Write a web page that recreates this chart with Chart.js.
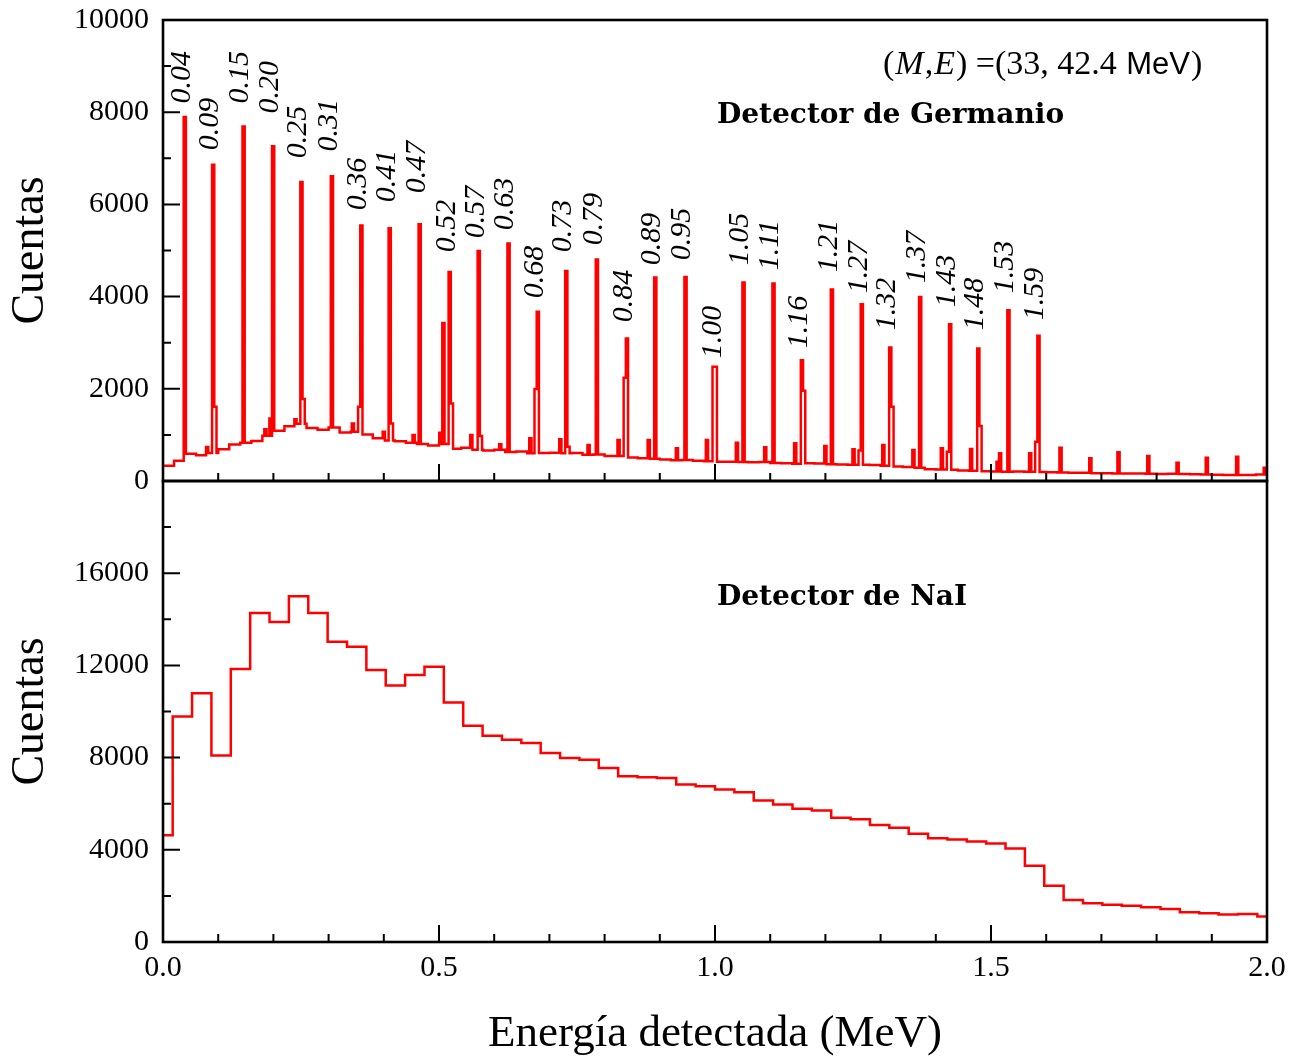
<!DOCTYPE html>
<html>
<head>
<meta charset="utf-8">
<title>Espectros Germanio / NaI</title>
<script src="https://cdn.jsdelivr.net/npm/chart.js@4.4.1/dist/chart.umd.min.js"></script>
<style>
    html, body { margin: 0; padding: 0; background: #fff; }
    #wrap { position: relative; width: 1303px; height: 1058px; }
    #geBox { position: absolute; left: 0; top: 0; width: 1303px; height: 500px; }
    #naiBox { position: absolute; left: 0; top: 470px; width: 1303px; height: 588px; }
</style>
</head>
<body>
<div id="wrap">
    <div id="naiBox"><canvas id="naiChart"></canvas></div>
    <div id="geBox"><canvas id="geChart"></canvas></div>
</div>
<script>
// ---- Germanium spectrum ----
// continuum, one value per 0.02 MeV bin starting at 0
const geBgStep = 0.02;
const geBackground = [
    330, 440, 590, 560, 610, 690, 790, 830, 870, 980,
    1090, 1190, 1240, 1150, 1110, 1160, 1050, 1070, 1010, 930,
    880, 860, 830, 800, 770, 800, 700, 720, 680, 660,
    680, 630, 640, 600, 610, 615, 600, 605, 570, 575,
    540, 545, 510, 495, 480, 465, 450, 455, 440, 430,
    420, 420, 410, 405, 410, 390, 385, 375, 385, 380,
    365, 360, 350, 355, 345, 330, 315, 305, 285, 255,
    250, 245, 230, 225, 210, 205, 200, 205, 200, 195,
    190, 185, 180, 178, 170, 168, 165, 162, 165, 158,
    152, 155, 150, 148, 142, 135, 130, 132, 128, 140
];
const geSpikeWidth = 0.004;

// labelled lines
const geLineEnergy = [
    0.0395, 0.0909, 0.1460, 0.1995, 0.2508, 0.3060, 0.3594, 0.4107, 0.4650, 0.5194,
    0.5720, 0.6260, 0.6790, 0.7306, 0.7860, 0.8405, 0.8918, 0.9466, 1.0015, 1.0517,
    1.1060, 1.1575, 1.2118, 1.2660, 1.3175, 1.3717, 1.4260, 1.4770, 1.5316, 1.5860
];
const geLineCounts = [
    7894, 6862, 7692, 7259, 6486, 6609, 5540, 5482, 5569, 4536,
    4990, 5150, 3669, 4557, 4803, 3092, 4414, 4427, 2477, 4305,
    4283, 2622, 4154, 3835, 2897, 3993, 3402, 2875, 3705, 3149
];
const geLabels = [
    '0.04', '0.09', '0.15', '0.20', '0.25', '0.31', '0.36', '0.41', '0.47', '0.52',
    '0.57', '0.63', '0.68', '0.73', '0.79', '0.84', '0.89', '0.95', '1.00', '1.05',
    '1.11', '1.16', '1.21', '1.27', '1.32', '1.37', '1.43', '1.48', '1.53', '1.59'
];
// count level where each rotated label starts
const geLabelBase = [
    8191, 7172, 8191, 7974, 6999, 7150, 5872, 6045, 6240, 4962,
    5265, 5439, 3965, 4962, 5114, 3445, 4680, 4789, 2665, 4680,
    4572, 2882, 4529, 4074, 3272, 4290, 3770, 3272, 4074, 3489
];

// shoulders, escape peaks and small lines
const geExtraEnergy = [
    0.0800, 0.0949, 0.1856, 0.1947, 0.2400, 0.2548, 0.3440, 0.3554, 0.4000, 0.4147,
    0.4540, 0.5025, 0.5080, 0.5234, 0.5586, 0.5760, 0.6110, 0.6655, 0.6750, 0.7198,
    0.7346, 0.7710, 0.8253, 0.8365, 0.8800, 0.9310, 0.9854, 0.9975, 1.0397, 1.0910,
    1.1453, 1.1615, 1.2000, 1.2510, 1.2620, 1.3050, 1.3215, 1.3595, 1.4110, 1.4220,
    1.4640, 1.4810, 1.5120, 1.5165, 1.5710, 1.5820, 1.6260, 1.6800, 1.7310, 1.7850,
    1.8380, 1.8910, 1.9460, 1.9960
];
const geExtraCounts = [
    736, 1610, 1120, 1358, 1340, 1777, 1250, 1610, 1068, 1250,
    997, 1047, 3430, 1683, 997, 975, 795, 925, 1993, 903,
    743, 780, 888, 2238, 888, 708, 888, 2477, 830, 730,
    817, 1957, 758, 687, 661, 780, 1610, 672, 708, 635,
    693, 1192, 418, 600, 600, 852, 722, 492, 622, 542,
    397, 505, 527, 290
];

// ---- NaI spectrum ----
const naiBinWidth = 2 / 57;
const naiCounts = [
    4631, 9784, 10790, 8086, 11844, 14276, 13888, 14998, 14276, 13024,
    12808, 11801, 11123, 11585, 11944, 10389, 9382, 8950, 8777, 8631,
    8199, 7983, 7912, 7552, 7192, 7149, 7120, 6832, 6760, 6616,
    6501, 6141, 5970, 5781, 5709, 5391, 5320, 5076, 4960, 4701,
    4500, 4442, 4355, 4269, 4053, 3305, 2441, 1822, 1678, 1620,
    1577, 1505, 1433, 1289, 1246, 1188, 1217, 1102
];

const xTickValues = [0, 0.5, 1.0, 1.5, 2.0];

const SERIF = "'Liberation Serif', 'Times New Roman', serif";
const SANS = "'Liberation Sans', Arial, sans-serif";
const WIDE_SERIF = "'DejaVu Serif', serif";
const RED = '#ff0000';

// step points (left edge + value) for the germanium histogram
function buildGeSpectrum() {
    const spikes = [];
    geLineEnergy.forEach((e, i) => spikes.push({ lo: e - geSpikeWidth / 2, hi: e + geSpikeWidth / 2, v: geLineCounts[i] }));
    geExtraEnergy.forEach((e, i) => spikes.push({ lo: e - geSpikeWidth / 2, hi: e + geSpikeWidth / 2, v: geExtraCounts[i] }));

    const cuts = [];
    for (let i = 0; i <= geBackground.length; i++) cuts.push(+(i * geBgStep).toFixed(4));
    spikes.forEach(s => { cuts.push(+s.lo.toFixed(4)); cuts.push(+s.hi.toFixed(4)); });
    const edges = [...new Set(cuts)].filter(c => c >= 0 && c <= 2).sort((a, b) => a - b);

    const points = [];
    for (let i = 0; i < edges.length - 1; i++) {
        const mid = (edges[i] + edges[i + 1]) / 2;
        let v = geBackground[Math.min(geBackground.length - 1, Math.floor(mid / geBgStep))];
        spikes.forEach(s => { if (mid > s.lo && mid < s.hi && s.v > v) v = s.v; });
        if (points.length && points[points.length - 1].y === v) continue;
        points.push({ x: edges[i], y: v });
    }
    points.push({ x: 2, y: points[points.length - 1].y });
    return points;
}

function buildNaiSpectrum() {
    return naiCounts.map((v, k) => ({ x: Math.min(2, k * naiBinWidth), y: v }));
}

// keep the plot box where the layout padding puts it
function noOverflow(s) {
    s.paddingTop = 0;
    s.paddingBottom = 0;
    s.paddingLeft = 0;
    s.paddingRight = 0;
}

// box around the plot area with inward ticks
const framePlugin = {
    id: 'frame',
    afterDatasetsDraw(chart, args, opts) {
        const { ctx, chartArea: a } = chart;
        const xs = chart.scales.x;
        const ys = chart.scales.y;
        ctx.save();
        ctx.strokeStyle = '#000';
        ctx.lineWidth = 2;
        ctx.beginPath();
        for (let i = 0; i <= 20; i++) {
            const px = xs.getPixelForValue(i / 10);
            const len = i % 5 === 0 ? 17 : 8;
            ctx.moveTo(px, a.bottom);
            ctx.lineTo(px, a.bottom - len);
        }
        const n = Math.round(ys.max / opts.yMinor);
        for (let i = 0; i <= n; i++) {
            const v = i * opts.yMinor;
            const py = ys.getPixelForValue(v);
            const len = v % opts.yMajor === 0 ? 17 : 8;
            ctx.moveTo(a.left, py);
            ctx.lineTo(a.left + len, py);
        }
        ctx.stroke();
        ctx.lineWidth = 2.6;
        ctx.strokeRect(a.left, a.top, a.right - a.left, a.bottom - a.top);
        ctx.restore();
    }
};

function drawYTitle(ctx, a) {
    ctx.save();
    ctx.translate(43, (a.top + a.bottom) / 2);
    ctx.rotate(-Math.PI / 2);
    ctx.font = `46px ${SERIF}`;
    ctx.fillStyle = '#000';
    ctx.textAlign = 'center';
    ctx.textBaseline = 'alphabetic';
    ctx.fillText('Cuentas', 0, 0);
    ctx.restore();
}

const geTextPlugin = {
    id: 'geText',
    afterDraw(chart) {
        const { ctx, chartArea: a } = chart;
        const xs = chart.scales.x;
        const ys = chart.scales.y;
        ctx.save();
        ctx.fillStyle = '#000';

        // line energies, rotated
        ctx.font = `italic 30px ${SERIF}`;
        ctx.textAlign = 'left';
        ctx.textBaseline = 'middle';
        geLabels.forEach((t, i) => {
            ctx.save();
            ctx.translate(xs.getPixelForValue(geLineEnergy[i]) - 3, ys.getPixelForValue(geLabelBase[i]));
            ctx.rotate(-Math.PI / 2);
            ctx.fillText(t, 0, 0);
            ctx.restore();
        });

        // (M,E) note
        const parts = [
            ['(', `34px ${SERIF}`], ['M', `italic 34px ${SERIF}`], [',', `34px ${SERIF}`],
            ['E', `italic 34px ${SERIF}`], [') =(33, 42.4 ', `34px ${SERIF}`],
            ['MeV', `31px ${SANS}`], [')', `34px ${SERIF}`]
        ];
        ctx.textBaseline = 'alphabetic';
        let x = 883;
        parts.forEach(([t, f]) => {
            ctx.font = f;
            ctx.fillText(t, x, 74);
            x += ctx.measureText(t).width + 1;
        });

        ctx.font = `bold 28px ${WIDE_SERIF}`;
        ctx.fillText('Detector de Germanio', 717, 123);

        drawYTitle(ctx, a);
        ctx.restore();
    }
};

const naiTextPlugin = {
    id: 'naiText',
    afterDraw(chart) {
        const { ctx, chartArea: a } = chart;
        ctx.save();
        ctx.fillStyle = '#000';
        ctx.textBaseline = 'alphabetic';
        ctx.font = `bold 28px ${WIDE_SERIF}`;
        ctx.fillText('Detector de NaI', 717, 135);

        ctx.font = `45px ${SERIF}`;
        ctx.textAlign = 'center';
        ctx.fillText('Energía detectada (MeV)', (a.left + a.right) / 2, 576);

        drawYTitle(ctx, a);
        ctx.restore();
    }
};

const tickFont = { family: SERIF, size: 30 };

new Chart(document.getElementById('geChart'), {
    type: 'line',
    data: {
        datasets: [{
            data: buildGeSpectrum(),
            borderColor: RED,
            borderWidth: 2.5,
            pointRadius: 0,
            stepped: true,
            fill: false
        }]
    },
    options: {
        responsive: true,
        maintainAspectRatio: false,
        animation: false,
        layout: { padding: { top: 20, right: 36, bottom: 19, left: 0 } },
        plugins: {
            legend: { display: false },
            tooltip: { enabled: false },
            frame: { yMinor: 1000, yMajor: 2000 }
        },
        scales: {
            x: { type: 'linear', min: 0, max: 2, display: false, afterFit: noOverflow },
            y: {
                min: 0,
                max: 10000,
                ticks: { stepSize: 2000, padding: 14, color: '#000', font: tickFont, callback: v => String(v) },
                grid: { display: false, drawTicks: false },
                border: { display: false },
                afterFit: s => { s.width = 163; noOverflow(s); }
            }
        }
    },
    plugins: [framePlugin, geTextPlugin]
});

new Chart(document.getElementById('naiChart'), {
    type: 'line',
    data: {
        datasets: [{
            data: buildNaiSpectrum(),
            borderColor: RED,
            borderWidth: 2.5,
            pointRadius: 0,
            stepped: 'middle',
            fill: false
        }]
    },
    options: {
        responsive: true,
        maintainAspectRatio: false,
        animation: false,
        layout: { padding: { top: 11, right: 36, bottom: 0, left: 0 } },
        plugins: {
            legend: { display: false },
            tooltip: { enabled: false },
            frame: { yMinor: 2000, yMajor: 4000 }
        },
        scales: {
            x: {
                type: 'linear',
                min: 0,
                max: 2,
                afterBuildTicks: s => { s.ticks = xTickValues.map(v => ({ value: v })); },
                ticks: { padding: 8, color: '#000', font: tickFont, maxRotation: 0, callback: v => Number(v).toFixed(1) },
                grid: { display: false, drawTicks: false },
                border: { display: false },
                afterFit: s => { s.height = 116; noOverflow(s); }
            },
            y: {
                min: 0,
                max: 20000,
                ticks: { stepSize: 4000, padding: 14, color: '#000', font: tickFont, callback: v => (v >= 20000 ? null : String(v)) },
                grid: { display: false, drawTicks: false },
                border: { display: false },
                afterFit: s => { s.width = 163; noOverflow(s); }
            }
        }
    },
    plugins: [framePlugin, naiTextPlugin]
});
</script>
</body>
</html>
